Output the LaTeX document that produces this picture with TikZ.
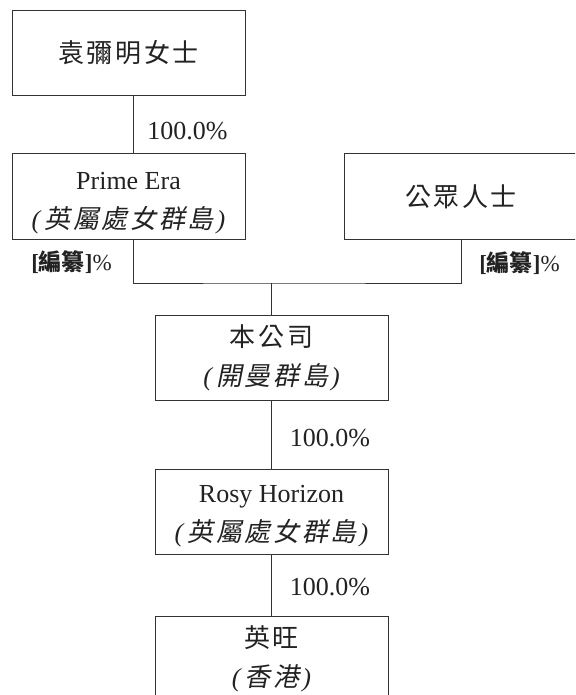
\documentclass[tikz,border=0pt]{standalone}
\usepackage{fontspec}
\setmainfont{Liberation Serif}
\newfontfamily\cjk[LetterSpace=10]{Noto Sans CJK TC}
\newfontfamily\cjkb{Noto Sans CJK TC}
\newfontfamily\cjkit[LetterSpace=10,FakeSlant=0.2]{Noto Sans CJK TC}
\newcommand\itp[1]{\textit{(}\kern3pt{\cjkit #1}\kern3pt\textit{)}}
\definecolor{linec}{HTML}{333333}
\definecolor{txt}{HTML}{222222}
\begin{document}
\begin{tikzpicture}[x=1pt,y=-1pt,
  box/.style={draw=linec, line width=1pt, minimum width=233pt, minimum height=85pt,
    align=center, inner sep=0pt, font=\fontsize{26}{39}\selectfont, text=txt},
  conn/.style={draw=linec, line width=1pt},
  pct/.style={font=\fontsize{26}{30}\selectfont, text=txt, inner sep=0pt},
  lab/.style={font=\fontsize{23}{28}\selectfont, text=txt, inner sep=0pt}]
\useasboundingbox (0,0) rectangle (575,695);
\clip (0,0) rectangle (575,695);
\node[box] (yuan) at (128.5,53) {\cjk 袁彌明女士};
\node[box] (prime) at (128.5,196.5) {\rule{0pt}{30pt}Prime Era\\\itp{英屬處女群島}};
\node[box, minimum width=234pt] (public) at (461,196.5) {\cjk 公眾人士};
\node[box] (co) at (271.5,357.5) {\cjk 本公司\\\itp{開曼群島}};
\node[box] (rosy) at (271.5,511.5) {\rule{0pt}{27pt}Rosy Horizon\\\itp{英屬處女群島}};
\node[box] (ying) at (271.5,658.5) {\cjk 英旺\\\itp{香港}};
\coordinate (j) at (271.5,283);
\draw[conn] ([xshift=4.5pt]yuan.south) -- ([xshift=4.5pt]prime.north);
\draw[conn] ([xshift=4.5pt]prime.south) |- (j) -| (public.south);
\draw[conn] (j) -- (co.north);
\draw[conn] (co.south) -- (rosy.north);
\draw[conn] (rosy.south) -- (ying.north);
\node[pct] (p1) at (187.5,131) {100.0\%};
\node[pct] (p2) at (330,438.5) {100.0\%};
\node[pct] (p3) at (330,587) {100.0\%};
\node[lab] (b1) at (71.5,262) {\textbf{[}{\cjkb\bfseries 編纂}\textbf{]}\%};
\node[lab] (b2) at (519.5,263) {\textbf{[}{\cjkb\bfseries 編纂}\textbf{]}\%};
\end{tikzpicture}
\end{document}
